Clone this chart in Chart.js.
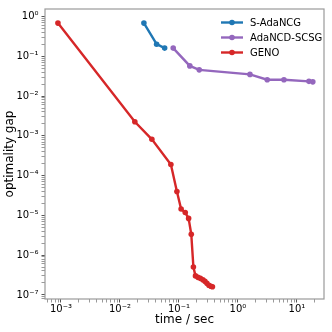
<!DOCTYPE html>
<html><head><meta charset="utf-8">
<script src="https://cdn.jsdelivr.net/npm/chart.js@4"></script>
<style>html,body{margin:0;padding:0;background:#fff}#wrap{width:332px;height:332px}</style>
</head><body><div id="wrap"><canvas id="c" width="332" height="332"></canvas></div>
<script>
const seriesNames = ['S-AdaNCG', 'AdaNCD-SCSG', 'GENO'];
const seriesColors = ['#1f77b4', '#9467bd', '#d62728'];
const sAdaTime = [0.0255, 0.0419, 0.0573];
const sAdaGap  = [0.686, 0.202, 0.161];
const adaTime = [0.080, 0.153, 0.221, 1.60, 3.14, 6.03, 16.0, 18.6];
const adaGap  = [0.161, 0.0574, 0.0457, 0.0351, 0.0258, 0.0258, 0.0235, 0.0228];
const genoTime = [0.00089, 0.0179, 0.0348, 0.0731, 0.0925, 0.109, 0.128, 0.146, 0.162, 0.176, 0.191, 0.210, 0.231, 0.255, 0.276, 0.298, 0.322, 0.348, 0.370];
const genoGap  = [0.686, 2.26e-3, 8.2e-4, 1.90e-4, 3.98e-5, 1.45e-5, 1.18e-5, 8.4e-6, 3.36e-6, 5.04e-7, 3.01e-7, 2.77e-7, 2.61e-7, 2.40e-7, 2.20e-7, 1.96e-7, 1.75e-7, 1.65e-7, 1.61e-7];
const xMajorExps = [-3, -2, -1, 0, 1];
const yMajorExps = [0, -1, -2, -3, -4, -5, -6, -7];
const xRange = [5.37e-4, 28.8];
const yRange = [7.9e-8, 1.55];

const sup = {'-':'⁻','0':'⁰','1':'¹','2':'²','3':'³','4':'⁴','5':'⁵','6':'⁶','7':'⁷','8':'⁸','9':'⁹'};
function powLabel(v){
  const e = Math.round(Math.log10(v));
  if (Math.abs(Math.log10(v) - e) > 1e-6) return '';
  return '10' + String(e).split('').map(c => sup[c]).join('');
}
function buildTicks(min, max){
  const t = [];
  for (let e = Math.floor(Math.log10(min)); e <= Math.ceil(Math.log10(max)); e++){
    for (let m = 1; m <= 9; m++){
      const v = m * Math.pow(10, e);
      if (v >= min && v <= max) t.push({value: v});
    }
  }
  return t;
}
function isMajor(v){ return Math.abs(Math.log10(v) - Math.round(Math.log10(v))) < 1e-6; }

const pairs = (xs, ys) => xs.map((x, i) => ({x: x, y: ys[i]}));
const dataArr = [pairs(sAdaTime, sAdaGap), pairs(adaTime, adaGap), pairs(genoTime, genoGap)];
const datasets = dataArr.map((d, i) => ({
  label: seriesNames[i], data: d, showLine: true,
  borderColor: seriesColors[i], backgroundColor: seriesColors[i],
  borderWidth: 2.4, pointRadius: 2.8, pointHoverRadius: 2.8, pointBorderWidth: 0,
  tension: 0, order: 3 - i
}));

const FONT = "'DejaVu Sans', sans-serif";
const framePlugin = {
  id: 'frame',
  afterDatasetsDraw(chart){
    const a = chart.chartArea, ctx = chart.ctx;
    ctx.save();
    ctx.strokeStyle = '#9a9a9a'; ctx.lineWidth = 1.2;
    ctx.strokeRect(a.left, a.top, a.right - a.left, a.bottom - a.top);
    // legend
    ctx.font = '10px ' + FONT;
    ctx.textBaseline = 'middle';
    const ys = [22.5, 37.5, 52.5];
    seriesNames.forEach((n, i) => {
      ctx.strokeStyle = seriesColors[i]; ctx.fillStyle = seriesColors[i];
      ctx.lineWidth = 2.4;
      ctx.beginPath(); ctx.moveTo(221, ys[i]); ctx.lineTo(243, ys[i]); ctx.stroke();
      ctx.beginPath(); ctx.arc(232, ys[i], 2.8, 0, Math.PI * 2); ctx.fill();
      ctx.fillStyle = '#000';
      ctx.fillText(n, 250, ys[i] + 0.5);
    });
    ctx.restore();
  }
};

new Chart(document.getElementById('c'), {
  type: 'scatter',
  data: { datasets: datasets },
  options: {
    responsive: false, animation: false, devicePixelRatio: 1,
    layout: { padding: { top: 5, right: 8, left: 0, bottom: 0 } },
    plugins: { legend: { display: false }, tooltip: { enabled: false } },
    scales: {
      x: {
        type: 'logarithmic', min: xRange[0], max: xRange[1],
        afterBuildTicks(s){ s.ticks = buildTicks(xRange[0], xRange[1]); },
        afterFit(s){ s.height = 33; },
        border: { display: false },
        grid: { drawOnChartArea: false, tickLength: 3.5, tickColor: '#555',
          tickWidth: (c) => (c.tick && isMajor(c.tick.value)) ? 1 : 0.6 },
        ticks: { autoSkip: false, maxRotation: 0, padding: 1, color: '#000',
          font: { family: FONT, size: 10 }, callback: (v) => powLabel(v) },
        title: { display: true, text: 'time / sec', color: '#000',
          font: { family: FONT, size: 12 }, padding: { top: 0, bottom: 5 } }
      },
      y: {
        type: 'logarithmic', min: yRange[0], max: yRange[1],
        afterBuildTicks(s){ s.ticks = buildTicks(yRange[0], yRange[1]); },
        afterFit(s){ s.width = 45; },
        border: { display: false },
        grid: { drawOnChartArea: false, tickLength: 3.5, tickColor: '#555',
          tickWidth: (c) => (c.tick && isMajor(c.tick.value)) ? 1 : 0.6 },
        ticks: { autoSkip: false, padding: 3, color: '#000',
          font: { family: FONT, size: 10 }, callback: (v) => powLabel(v) },
        title: { display: true, text: 'optimality gap', color: '#000',
          font: { family: FONT, size: 12 }, padding: { top: 3, bottom: 0 } }
      }
    }
  },
  plugins: [framePlugin]
});
</script>
</body></html>
